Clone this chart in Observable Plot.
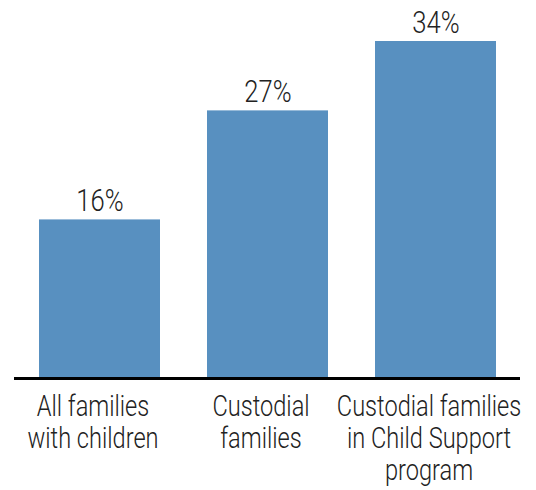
<!DOCTYPE html>
<html>
<head>
<meta charset="utf-8">
<script src="https://cdn.jsdelivr.net/npm/d3@7"></script>
<script src="https://cdn.jsdelivr.net/npm/@observablehq/plot@0.6"></script>
<style>
  html, body { margin: 0; padding: 0; background: #fff; }
  svg { display: block; }
</style>
</head>
<body>
<div id="chart"></div>
<script>
const categories = ["All families\nwith children", "Custodial\nfamilies", "Custodial families\nin Child Support\nprogram"];
const values = [16, 27, 34];
const valueLabels = ["16%", "27%", "34%"];

const data = categories.map((c, i) => ({category: c, value: values[i], label: valueLabels[i]}));
const font = "Roboto, 'Liberation Sans', sans-serif";

const chart = Plot.plot({
  width: 536,
  height: 490,
  marginLeft: 14,
  marginRight: 16,
  marginTop: 41,
  marginBottom: 112,
  style: {fontFamily: font, background: "#fff"},
  x: {domain: categories, paddingInner: 0.28, paddingOuter: 0.14, axis: null},
  y: {domain: [0, 34], axis: null},
  marks: [
    Plot.barY(data, {x: "category", y: "value", fill: "#5890c0"}),
    Plot.ruleY([0], {stroke: "#000", strokeWidth: 3}),
    Plot.text(data, {x: "category", y: "value", text: "label", dy: -9, lineAnchor: "bottom", fontSize: 32, fontWeight: 300, fill: "#222", fontFamily: font}),
    Plot.text(data, {x: "category", y: () => 0, text: "category", dy: 14, dx: -7, lineAnchor: "top", lineHeight: 1.1, fontSize: 29.5, fontWeight: 300, fill: "#222", fontFamily: font})
  ]
});
// condense the text horizontally to mimic the condensed typeface
d3.select(chart).selectAll("text").each(function() {
  const t = this.getAttribute("transform") || "";
  this.setAttribute("transform", t + " scale(0.8,1)");
});
document.getElementById("chart").appendChild(chart);
</script>
</body>
</html>
